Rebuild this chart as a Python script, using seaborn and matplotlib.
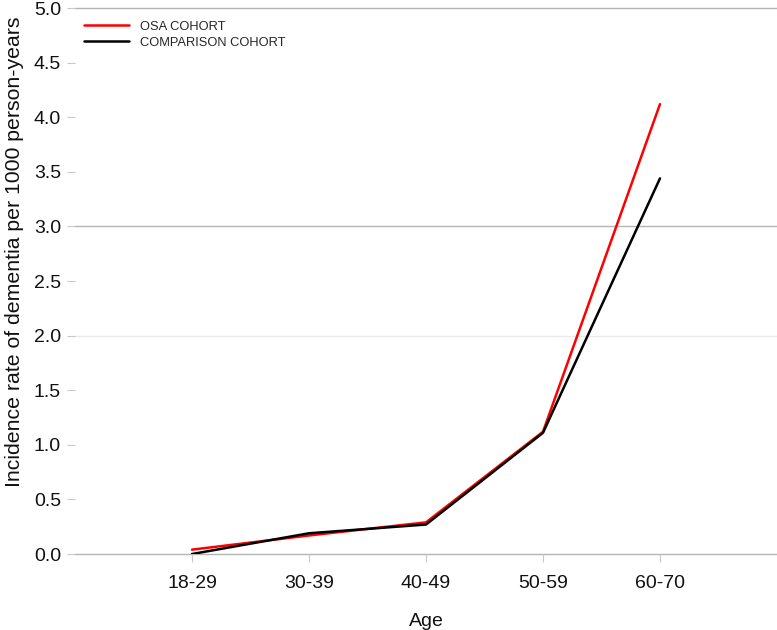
import matplotlib
matplotlib.use("Agg")
import matplotlib.pyplot as plt
import seaborn as sns
import pandas as pd

ages = ["18-29", "30-39", "40-49", "50-59", "60-70"]
osa = [0.04, 0.17, 0.29, 1.12, 4.12]
comparison = [0.0, 0.19, 0.27, 1.11, 3.44]
series_names = ["OSA COHORT", "COMPARISON COHORT"]
yticks = [0.0, 0.5, 1.0, 1.5, 2.0, 2.5, 3.0, 3.5, 4.0, 4.5, 5.0]
dark_grid = [0.0, 3.0, 5.0]
light_grid = [2.0]

sns.set_theme(style="white")
plt.rcParams['font.family'] = ['Liberation Sans', 'DejaVu Sans']

df = pd.DataFrame({
    "Age": ages * 2,
    "Rate": osa + comparison,
    "Cohort": [series_names[0]] * len(ages) + [series_names[1]] * len(ages),
})
df["x"] = list(range(len(ages))) * 2

fig = plt.figure(figsize=(7.77, 6.3), dpi=100)
ax = fig.add_axes([0.0965, 0.1206, 0.9035, 0.8667])

for y in dark_grid:
    ax.axhline(y, color="#b4b4b4", lw=1.0, zorder=0, clip_on=False)
for y in light_grid:
    ax.axhline(y, color="#ebebeb", lw=1.0, zorder=0, clip_on=False)

sns.lineplot(data=df, x="x", y="Rate", hue="Cohort",
             palette={series_names[0]: "#ff0000", series_names[1]: "#000000"},
             hue_order=series_names, lw=1.8, ax=ax, legend=True)

ax.set_xlim(-1, 5)
ax.set_ylim(0, 5.0)
ax.set_xticks(range(len(ages)))
ax.set_xticklabels(ages)
ax.set_yticks(yticks)
ax.set_yticklabels([f"{v:.1f}" for v in yticks])
for s in ax.spines.values():
    s.set_visible(False)
ax.tick_params(axis="both", which="both", direction="out", length=6, width=0.8,
               color="#c8c8c8", labelsize=14, labelcolor="#111111", pad=4, left=True, bottom=True)
ax.tick_params(axis="x", pad=9)
ax.set_xlabel("Age", fontsize=14, labelpad=15, color="#111111")
ax.set_ylabel("Incidence rate of dementia per 1000 person-years", fontsize=15.3,
              color="#111111")
ax.yaxis.set_label_coords(-0.073, 0.553)

leg = ax.legend(loc="upper left", bbox_to_anchor=(0.0, 0.993), frameon=False,
                fontsize=9.3, handlelength=3.5, handletextpad=0.8, labelspacing=0.3,
                borderaxespad=0.3)
for line in leg.get_lines():
    line.set_linewidth(1.8)

fig.savefig("out.png", dpi=100)
